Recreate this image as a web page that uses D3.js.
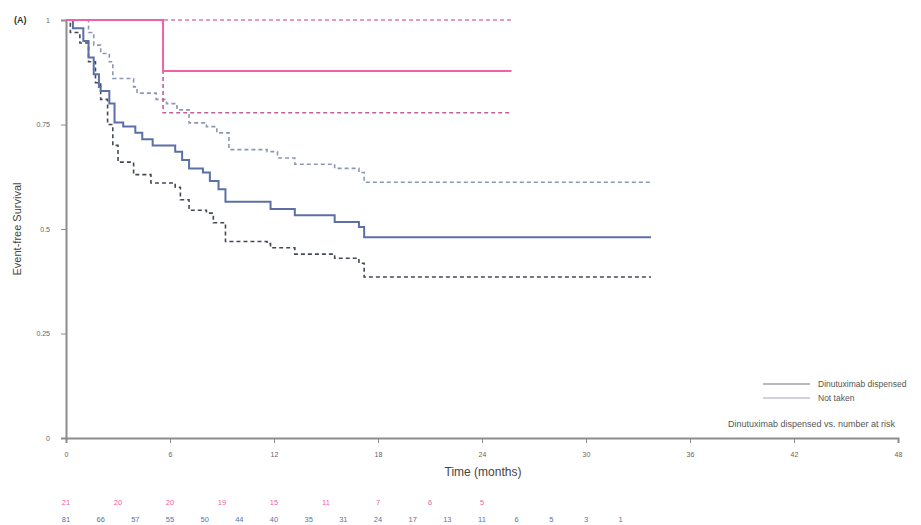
<!DOCTYPE html>
<html><head><meta charset="utf-8">
<script src="https://cdn.jsdelivr.net/npm/d3@7"></script>
<style>body{margin:0;background:#fff;} svg{display:block;font-family:"Liberation Sans",Arial,sans-serif;}</style>
</head><body><svg id="c" width="921" height="525"></svg>
<script>
// ---- data ----
const xTicks = [0, 6, 12, 18, 24, 30, 36, 42, 48];
const yTicks = [0, 0.25, 0.5, 0.75, 1];
const yTickLabels = ["0", "0.25", "0.5", "0.75", "1"];

// Dinutuximab group (pink)
const pinkTimes = [0, 5.6, 25.7];
const pinkSurv  = [1, 0.878, 0.878];
const pinkUpperTimes = [0, 25.7];
const pinkUpperSurv  = [1, 1];
const pinkLowerTimes = [0, 5.6, 25.7];
const pinkLowerSurv  = [1, 0.778, 0.778];

// Not-taken group (blue)
const blueTimes = [0, 0.4, 1.0, 1.3, 1.6, 1.9, 2.0, 2.5, 2.8, 3.3, 4.0, 4.4, 5.0, 6.3, 6.7, 7.1, 7.9, 8.3, 8.8, 9.2, 11.8, 13.2, 15.5, 16.9, 17.2, 33.75];
const blueSurv  = [1, 0.98, 0.95, 0.91, 0.87, 0.84, 0.83, 0.80, 0.755, 0.745, 0.73, 0.715, 0.70, 0.685, 0.665, 0.645, 0.635, 0.615, 0.595, 0.565, 0.548, 0.533, 0.517, 0.505, 0.48, 0.48];
const blueUpperTimes = [0, 1.1, 1.3, 1.6, 2.0, 2.5, 2.7, 3.9, 4.1, 5.2, 5.8, 6.4, 7.1, 8.1, 8.7, 9.4, 11.6, 12.2, 13.2, 15.5, 16.9, 17.2, 33.75];
const blueUpperSurv  = [1, 1, 0.97, 0.94, 0.92, 0.90, 0.86, 0.84, 0.825, 0.81, 0.80, 0.785, 0.754, 0.745, 0.73, 0.69, 0.685, 0.67, 0.655, 0.645, 0.635, 0.612, 0.612];
const blueLowerTimes = [0, 0.25, 0.8, 1.3, 1.7, 2.0, 2.4, 2.7, 3.0, 3.9, 4.9, 6.3, 6.6, 7.1, 8.1, 8.5, 9.2, 11.6, 11.8, 13.2, 15.5, 16.9, 17.2, 33.75];
const blueLowerSurv  = [1, 0.97, 0.945, 0.90, 0.85, 0.81, 0.75, 0.70, 0.66, 0.63, 0.61, 0.60, 0.57, 0.545, 0.538, 0.515, 0.47, 0.465, 0.455, 0.44, 0.43, 0.418, 0.385, 0.385];

// numbers at risk
const pinkRiskTimes = [0, 3, 6, 9, 12, 15, 18, 21, 24];
const pinkRisk = [21, 20, 20, 19, 15, 11, 7, 6, 5];
const blueRiskTimes = [0, 2, 4, 6, 8, 10, 12, 14, 16, 18, 20, 22, 24, 26, 28, 30, 32];
const blueRisk = [81, 66, 57, 55, 50, 44, 40, 35, 31, 24, 17, 13, 11, 6, 5, 3, 1];

const legendLabels = ["Dinutuximab dispensed", "Not taken"];
const riskTitle = "Dinutuximab dispensed vs. number at risk";

// ---- drawing ----
const svg = d3.select("#c");
const x = d3.scaleLinear().domain([0, 48]).range([66, 898]);
const y = d3.scaleLinear().domain([0, 1]).range([438, 20]);

const pink = "#ef62a8", blue = "#5c70a8";
const axisCol = "#8c8c8c", tickTxt = "#666";

// axes
const xAxis = svg.append("g").attr("transform", "translate(0,438)")
  .call(d3.axisBottom(x).tickValues(xTicks).tickSize(5).tickPadding(9));
const yAxis = svg.append("g").attr("transform", "translate(66,0)")
  .call(d3.axisLeft(y).tickValues(yTicks).tickFormat((d,i)=>yTickLabels[i]).tickSize(5).tickPadding(11));
[xAxis, yAxis].forEach(g => {
  g.select(".domain").attr("stroke", axisCol).attr("stroke-width", 2);
  g.selectAll(".tick line").attr("stroke", axisCol).attr("stroke-width", 1);
  g.selectAll(".tick text").attr("fill", tickTxt).attr("font-size", 7);
});

const line = d3.line().x(d => x(d[0])).y(d => y(d[1])).curve(d3.curveStepAfter);
function curve(ts, vs, color, width, dash) {
  svg.append("path").datum(d3.zip(ts, vs)).attr("d", line)
    .attr("fill", "none").attr("stroke", color).attr("stroke-width", width)
    .attr("stroke-dasharray", dash || null);
}
curve(blueUpperTimes, blueUpperSurv, "#8d97b5", 1.6, "4,3");
curve(blueLowerTimes, blueLowerSurv, "#444a55", 1.6, "4,3");
curve(pinkUpperTimes, pinkUpperSurv, "#e07aac", 1.6, "4,3");
curve(pinkLowerTimes, pinkLowerSurv, "#c0609a", 1.6, "4,3");
curve(blueTimes, blueSurv, blue, 2);
curve(pinkTimes, pinkSurv, pink, 2);

// titles
svg.append("text").attr("x", 14).attr("y", 23).attr("font-size", 9).attr("font-weight", "bold").attr("fill", "#333").text("(A)");
svg.append("text").attr("transform", "translate(21,229) rotate(-90)").attr("text-anchor", "middle")
  .attr("font-size", 11).attr("fill", "#444").text("Event-free Survival");
svg.append("text").attr("x", 483).attr("y", 476).attr("text-anchor", "middle")
  .attr("font-size", 12).attr("fill", "#444").text("Time (months)");

// legend
const legCols = ["#777", "#a0a6b8"];
legendLabels.forEach((lab, i) => {
  const ly = 384 + i * 14;
  svg.append("line").attr("x1", 763).attr("x2", 810).attr("y1", ly).attr("y2", ly)
    .attr("stroke", legCols[i]).attr("stroke-width", 1.2);
  svg.append("text").attr("x", 818).attr("y", ly + 3).attr("font-size", 8.5).attr("fill", "#555").text(lab);
});
svg.append("text").attr("x", 728).attr("y", 427).attr("font-size", 9).attr("fill", "#555").text(riskTitle);

// risk table
svg.append("g").selectAll("text").data(d3.zip(pinkRiskTimes, pinkRisk)).join("text")
  .attr("x", d => x(d[0])).attr("y", 505).attr("text-anchor", "middle")
  .attr("font-size", 7.5).attr("fill", pink).text(d => d[1]);
svg.append("g").selectAll("text").data(d3.zip(blueRiskTimes, blueRisk)).join("text")
  .attr("x", d => x(d[0])).attr("y", 522).attr("text-anchor", "middle")
  .attr("font-size", 7.5).attr("fill", blue).text(d => d[1]);
</script></body></html>
